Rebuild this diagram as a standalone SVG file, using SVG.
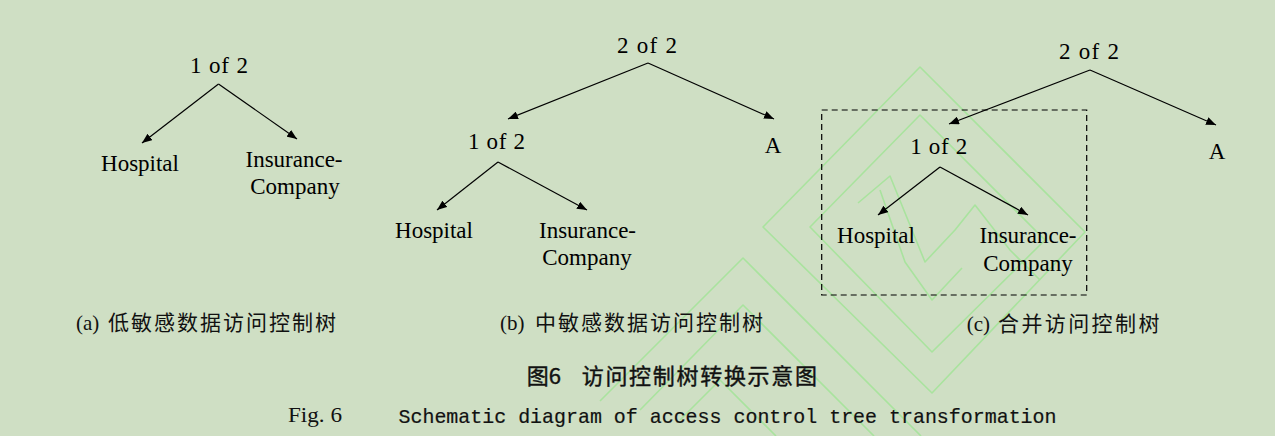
<svg xmlns="http://www.w3.org/2000/svg" width="1275" height="436" viewBox="0 0 1275 436">
  <defs>
    <marker id="arrow" markerUnits="userSpaceOnUse" markerWidth="10" markerHeight="8" refX="10" refY="4" orient="auto">
      <path d="M0,0 L10,4 L0,8 z" fill="#000"/>
    </marker>
    <style>
      .bg { fill: #cfdfc4; }
      .wm { fill: none; stroke: #a9e39e; stroke-width: 1.6; stroke-linejoin: round; }
      .lbl { font-family: "Liberation Serif", "Times New Roman", serif; font-size: 23px; fill: #000; text-anchor: middle; }
      .edge { stroke: #000; stroke-width: 1.2; fill: none; marker-end: url(#arrow); }
      .box { fill: none; stroke: #000; stroke-width: 1.2; stroke-dasharray: 6 4; }
      .cap { font-family: "Liberation Serif", "Noto Sans CJK SC", serif; font-size: 21px; fill: #111; }
      .cjk { font-family: "Noto Sans CJK SC", sans-serif; font-size: 21px; fill: #111; }
      .title { font-family: "Noto Sans CJK SC", sans-serif; font-size: 22px; font-weight: normal; fill: #111; stroke: #111; stroke-width: 0.4; }
      .fig { font-family: "Liberation Serif", serif; font-size: 22px; fill: #111; }
      .mono { font-family: "Liberation Mono", "Courier New", monospace; font-size: 21px; fill: #111; stroke: #111; stroke-width: 0.2; }
    </style>
  </defs>

  <rect class="bg" x="0" y="0" width="1275" height="436"/>

  <!-- watermark -->
  <g id="watermark">
    <polygon class="wm" points="920,67 1085,232 932,393 763,227"/>
    <polygon class="wm" points="920,115 1045,240 932,352 810,227"/>
    <polyline class="wm" points="858,203 890,176 925,262 955,230 975,205 1010,250 1040,280"/>
    <polyline class="wm" points="880,190 905,262 932,300 962,268"/>
    <polyline class="wm" points="600,401 743,258 921,436"/>
    <polyline class="wm" points="640,410 743,305 874,436"/>
    <polyline class="wm" points="680,420 720,380 776,436"/>
  </g>

  <!-- connectors -->
  <g id="connectors">
    <line class="edge" x1="218.5" y1="84" x2="142" y2="143"/>
    <line class="edge" x1="218.5" y1="84" x2="297" y2="139"/>

    <line class="edge" x1="648" y1="63" x2="508" y2="119"/>
    <line class="edge" x1="648" y1="63" x2="774" y2="119"/>
    <line class="edge" x1="498" y1="162" x2="437" y2="210"/>
    <line class="edge" x1="498" y1="162" x2="587" y2="210"/>

    <line class="edge" x1="1090" y1="70" x2="949" y2="124"/>
    <line class="edge" x1="1090" y1="70" x2="1216" y2="125"/>
    <line class="edge" x1="940" y1="167" x2="878" y2="215"/>
    <line class="edge" x1="940" y1="167" x2="1028" y2="215"/>
  </g>

  <!-- tree (a) -->
  <g id="a-root"><text class="lbl" x="219" y="73" textLength="58" lengthAdjust="spacing">1 of 2</text></g>
  <g id="a-hospital"><text class="lbl" x="140" y="171">Hospital</text></g>
  <g id="a-insurance"><text class="lbl" x="294" y="167">Insurance-</text><text class="lbl" x="295" y="194">Company</text></g>

  <!-- tree (b) -->
  <g id="b-root"><text class="lbl" x="647" y="53" textLength="60" lengthAdjust="spacing">2 of 2</text></g>
  <g id="b-or"><text class="lbl" x="496.5" y="149" textLength="57" lengthAdjust="spacing">1 of 2</text></g>
  <g id="b-A"><text class="lbl" x="773" y="153">A</text></g>
  <g id="b-hospital"><text class="lbl" x="434" y="238">Hospital</text></g>
  <g id="b-insurance"><text class="lbl" x="587.5" y="238">Insurance-</text><text class="lbl" x="587" y="265">Company</text></g>

  <!-- tree (c) -->
  <g id="c-root"><text class="lbl" x="1089" y="59" textLength="60" lengthAdjust="spacing">2 of 2</text></g>
  <g id="c-box"><rect class="box" x="821.7" y="110" width="265" height="185"/></g>
  <g id="c-or"><text class="lbl" x="938.7" y="154" textLength="57" lengthAdjust="spacing">1 of 2</text></g>
  <g id="c-A"><text class="lbl" x="1217" y="159">A</text></g>
  <g id="c-hospital"><text class="lbl" x="876" y="243">Hospital</text></g>
  <g id="c-insurance"><text class="lbl" x="1028" y="243">Insurance-</text><text class="lbl" x="1028" y="271">Company</text></g>

  <!-- captions -->
  <g id="captions">
    <text class="cap" x="76" y="330">(a)</text>
    <text class="cjk" x="108" y="330" letter-spacing="2">低敏感数据访问控制树</text>
    <text class="cap" x="500" y="330">(b)</text>
    <text class="cjk" x="535" y="330" letter-spacing="2">中敏感数据访问控制树</text>
    <text class="cap" x="966.7" y="331">(c)</text>
    <text class="cjk" x="998" y="331" letter-spacing="2.4">合并访问控制树</text>

    <text class="title" x="526.7" y="384">图6</text>
    <text class="title" x="581.7" y="384" letter-spacing="1.7">访问控制树转换示意图</text>

    <text class="fig" x="288" y="422" textLength="54" lengthAdjust="spacingAndGlyphs">Fig. 6</text>
    <text class="mono" x="398.5" y="422.5" textLength="658" lengthAdjust="spacingAndGlyphs">Schematic diagram of access control tree transformation</text>
  </g>
</svg>
